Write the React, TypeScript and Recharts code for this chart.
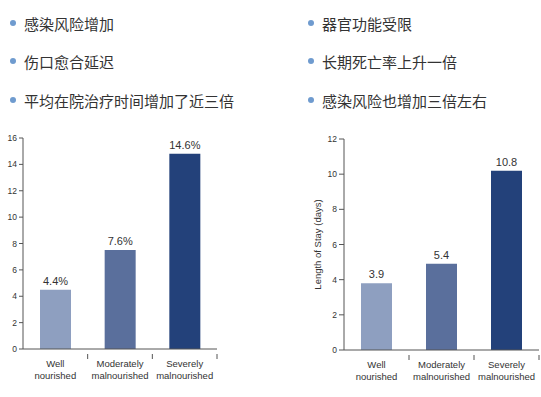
import React from 'react';
import { BarChart, Bar, XAxis, YAxis, Cell, LabelList } from 'recharts';

const bulletsLeft = ['感染风险增加', '伤口愈合延迟', '平均在院治疗时间增加了近三倍'];
const bulletsRight = ['器官功能受限', '长期死亡率上升一倍', '感染风险也增加三倍左右'];

const categories = ['Well nourished', 'Moderately malnourished', 'Severely malnourished'];
const infectionValues = [4.5, 7.5, 14.8];
const infectionLabels = ['4.4%', '7.6%', '14.6%'];
const stayValues = [3.8, 4.9, 10.2];
const stayLabels = ['3.9', '5.4', '10.8'];
const infectionTicks = [0, 2, 4, 6, 8, 10, 12, 14, 16];
const stayTicks = [0, 2, 4, 6, 8, 10, 12];

const barColors = ['#8e9fc0', '#5a6f9c', '#23417a'];
const FONT = '"Liberation Sans", Arial, sans-serif';
const CJK = '"Noto Sans CJK SC", sans-serif';

const infectionData = categories.map((c, i) => ({ name: c, value: infectionValues[i], label: infectionLabels[i] }));
const stayData = categories.map((c, i) => ({ name: c, value: stayValues[i], label: stayLabels[i] }));

const CategoryTick = (props: any) => {
  const { x, y, payload } = props;
  const half = payload && payload.offset ? payload.offset : 32;
  const words = String(payload.value).split(' ');
  return (
    <g>
      <line x1={x + half} x2={x + half} y1={y - 3} y2={y + 2} stroke="#555" strokeWidth={1} />
      <text x={x} y={y + 10} textAnchor="middle" fontSize={9.5} fill="#333" fontFamily={FONT}>
        {words[0]}
      </text>
      <text x={x} y={y + 22} textAnchor="middle" fontSize={9.5} fill="#333" fontFamily={FONT}>
        {words[1]}
      </text>
    </g>
  );
};

const StayLabel = (props: any) => {
  const { viewBox } = props;
  const cx = viewBox.x + 47;
  const cy = viewBox.y + viewBox.height / 2;
  return (
    <text x={cx} y={cy} transform={`rotate(-90 ${cx} ${cy})`} textAnchor="middle" fontSize={9.5} fill="#333" fontFamily={FONT} dominantBaseline="central">
      Length of Stay (days)
    </text>
  );
};

const Bullet = ({ text, x, y }: { text: string; x: number; y: number }) => (
  <div style={{ position: 'absolute', left: x, top: y - 11, height: 22, display: 'flex', alignItems: 'center', whiteSpace: 'nowrap' }}>
    <span style={{ width: 6, height: 6, borderRadius: 3, background: '#6f9bcf', display: 'inline-block', marginRight: 8 }} />
    <span style={{ fontFamily: CJK, fontSize: 15, color: '#333' }}>{text}</span>
  </div>
);

export default function App() {
  const rows = [23, 61, 100];
  return (
    <div style={{ position: 'absolute', left: 0, top: 0, width: 541, height: 397, background: '#fff', overflow: 'hidden' }}>
      {bulletsLeft.map((t, i) => (
        <Bullet key={t} text={t} x={10} y={rows[i]} />
      ))}
      {bulletsRight.map((t, i) => (
        <Bullet key={t} text={t} x={308} y={rows[i]} />
      ))}

      <div style={{ position: 'absolute', left: 0, top: 120 }}>
        <BarChart width={230} height={277} data={infectionData} margin={{ top: 18, right: 13, bottom: 18, left: 0 }} barSize={31}>
          <XAxis dataKey="name" height={30} interval={0} axisLine={{ stroke: '#555' }} tickLine={false} tick={<CategoryTick />} />
          <YAxis width={23} domain={[0, 16]} ticks={infectionTicks} interval={0} axisLine={{ stroke: '#555' }} tickLine={{ stroke: '#555' }} tickSize={4} tickMargin={2} tick={{ fontSize: 8.5, fill: '#333', fontFamily: FONT }} />
          <Bar dataKey="value" isAnimationActive={false}>
            {infectionData.map((d, i) => (
              <Cell key={d.name} fill={barColors[i]} />
            ))}
            <LabelList dataKey="label" position="top" offset={5} fontSize={11} fill="#333" fontFamily={FONT} />
          </Bar>
        </BarChart>
      </div>

      <div style={{ position: 'absolute', left: 270, top: 120 }}>
        <BarChart width={271} height={277} data={stayData} margin={{ top: 19, right: 2, bottom: 17, left: 0 }} barSize={31}>
          <XAxis dataKey="name" height={30} interval={0} axisLine={{ stroke: '#555' }} tickLine={false} tick={<CategoryTick />} />
          <YAxis width={74} domain={[0, 12]} ticks={stayTicks} interval={0} axisLine={{ stroke: '#555' }} tickLine={{ stroke: '#555' }} tickSize={5} tickMargin={2} tick={{ fontSize: 8.5, fill: '#333', fontFamily: FONT }} label={<StayLabel />} />
          <Bar dataKey="value" isAnimationActive={false}>
            {stayData.map((d, i) => (
              <Cell key={d.name} fill={barColors[i]} />
            ))}
            <LabelList dataKey="label" position="top" offset={5} fontSize={11} fill="#333" fontFamily={FONT} />
          </Bar>
        </BarChart>
      </div>
    </div>
  );
}
